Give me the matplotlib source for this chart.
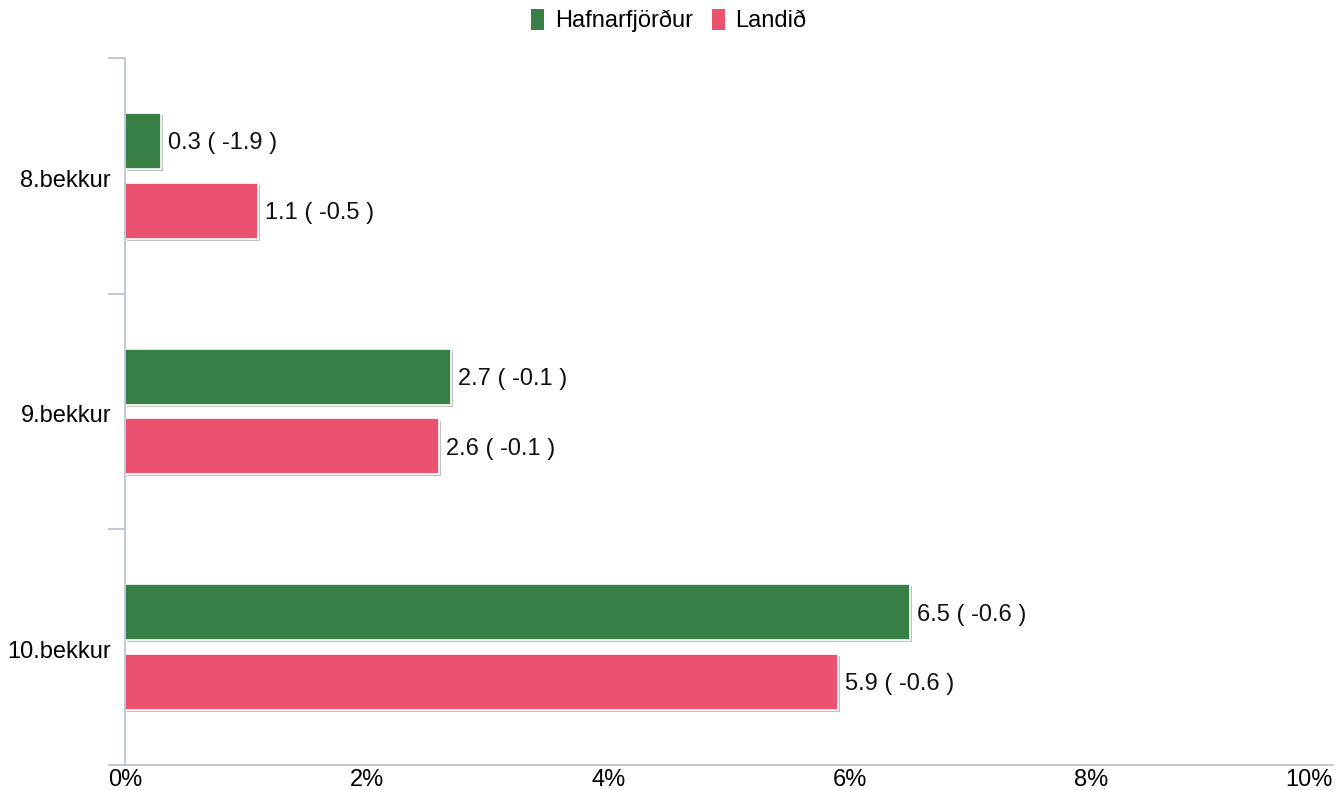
import matplotlib
matplotlib.use("Agg")
import matplotlib.pyplot as plt
import matplotlib.patheffects as pe
from matplotlib.patches import Patch
import numpy as np

plt.rcParams['font.family'] = ['Liberation Sans', 'DejaVu Sans']

categories = ["8.bekkur", "9.bekkur", "10.bekkur"]
series_names = ["Hafnarfjörður", "Landið"]
hafn_values = [0.3, 2.7, 6.5]
hafn_change = [-1.9, -0.1, -0.6]
land_values = [1.1, 2.6, 5.9]
land_change = [-0.5, -0.1, -0.6]
x_ticks = [0, 2, 4, 6, 8, 10]
x_tick_labels = ["0%", "2%", "4%", "6%", "8%", "10%"]

green = "#377F45"
pink = "#EA5270"
spine_col = "#B4C0D4"
fs = 17

fig = plt.figure(figsize=(13.38, 7.90), dpi=100)
ax = fig.add_axes([125/1338, 1 - 765/790, (1333 - 125)/1338, (765 - 58)/790])

y = np.arange(len(categories))
h = 0.237
off = 0.148
shadow = [pe.SimplePatchShadow(offset=(1.5, -1.5), shadow_rgbFace="#999999", alpha=0.6), pe.Normal()]

b1 = ax.barh(y - off, hafn_values, height=h, color=green, edgecolor="white", linewidth=1.2)
b2 = ax.barh(y + off, land_values, height=h, color=pink, edgecolor="white", linewidth=1.2)
for b in list(b1) + list(b2):
    b.set_path_effects(shadow)

for yi, v, c in zip(y - off, hafn_values, hafn_change):
    ax.text(v + 0.06, yi + 0.01, f"{v} ( {c} )", va="center", ha="left", fontsize=fs, color="#111111")
for yi, v, c in zip(y + off, land_values, land_change):
    ax.text(v + 0.06, yi + 0.01, f"{v} ( {c} )", va="center", ha="left", fontsize=fs, color="#111111")

ax.set_xlim(0, 10)
ax.set_ylim(2.5, -0.5)
ax.set_xticks(x_ticks)
ax.set_xticklabels(x_tick_labels, fontsize=fs)
ax.tick_params(axis="x", length=0, pad=3)
lbls = ax.get_xticklabels()
lbls[-1].set_horizontalalignment("right")

ax.set_yticks(y + 0.01)
ax.set_yticklabels(categories, fontsize=fs)
ax.tick_params(axis="y", which="major", length=0, pad=10)
ax.set_yticks([-0.5, 0.5, 1.5, 2.5], minor=True)
ax.tick_params(axis="y", which="minor", length=12, color=spine_col, width=1.2)

for s in ["top", "right"]:
    ax.spines[s].set_visible(False)
for s in ["left", "bottom"]:
    ax.spines[s].set_color(spine_col)
    ax.spines[s].set_linewidth(1.2)

handles = [Patch(facecolor=green, edgecolor="none"), Patch(facecolor=pink, edgecolor="none")]
fig.legend(handles, series_names, loc="upper center", bbox_to_anchor=(0.5, 1.016), ncol=2,
           frameon=False, fontsize=fs, handlelength=0.55, handleheight=1.0,
           handletextpad=0.45, columnspacing=0.8)

fig.savefig("out.png", dpi=100, facecolor="white")
